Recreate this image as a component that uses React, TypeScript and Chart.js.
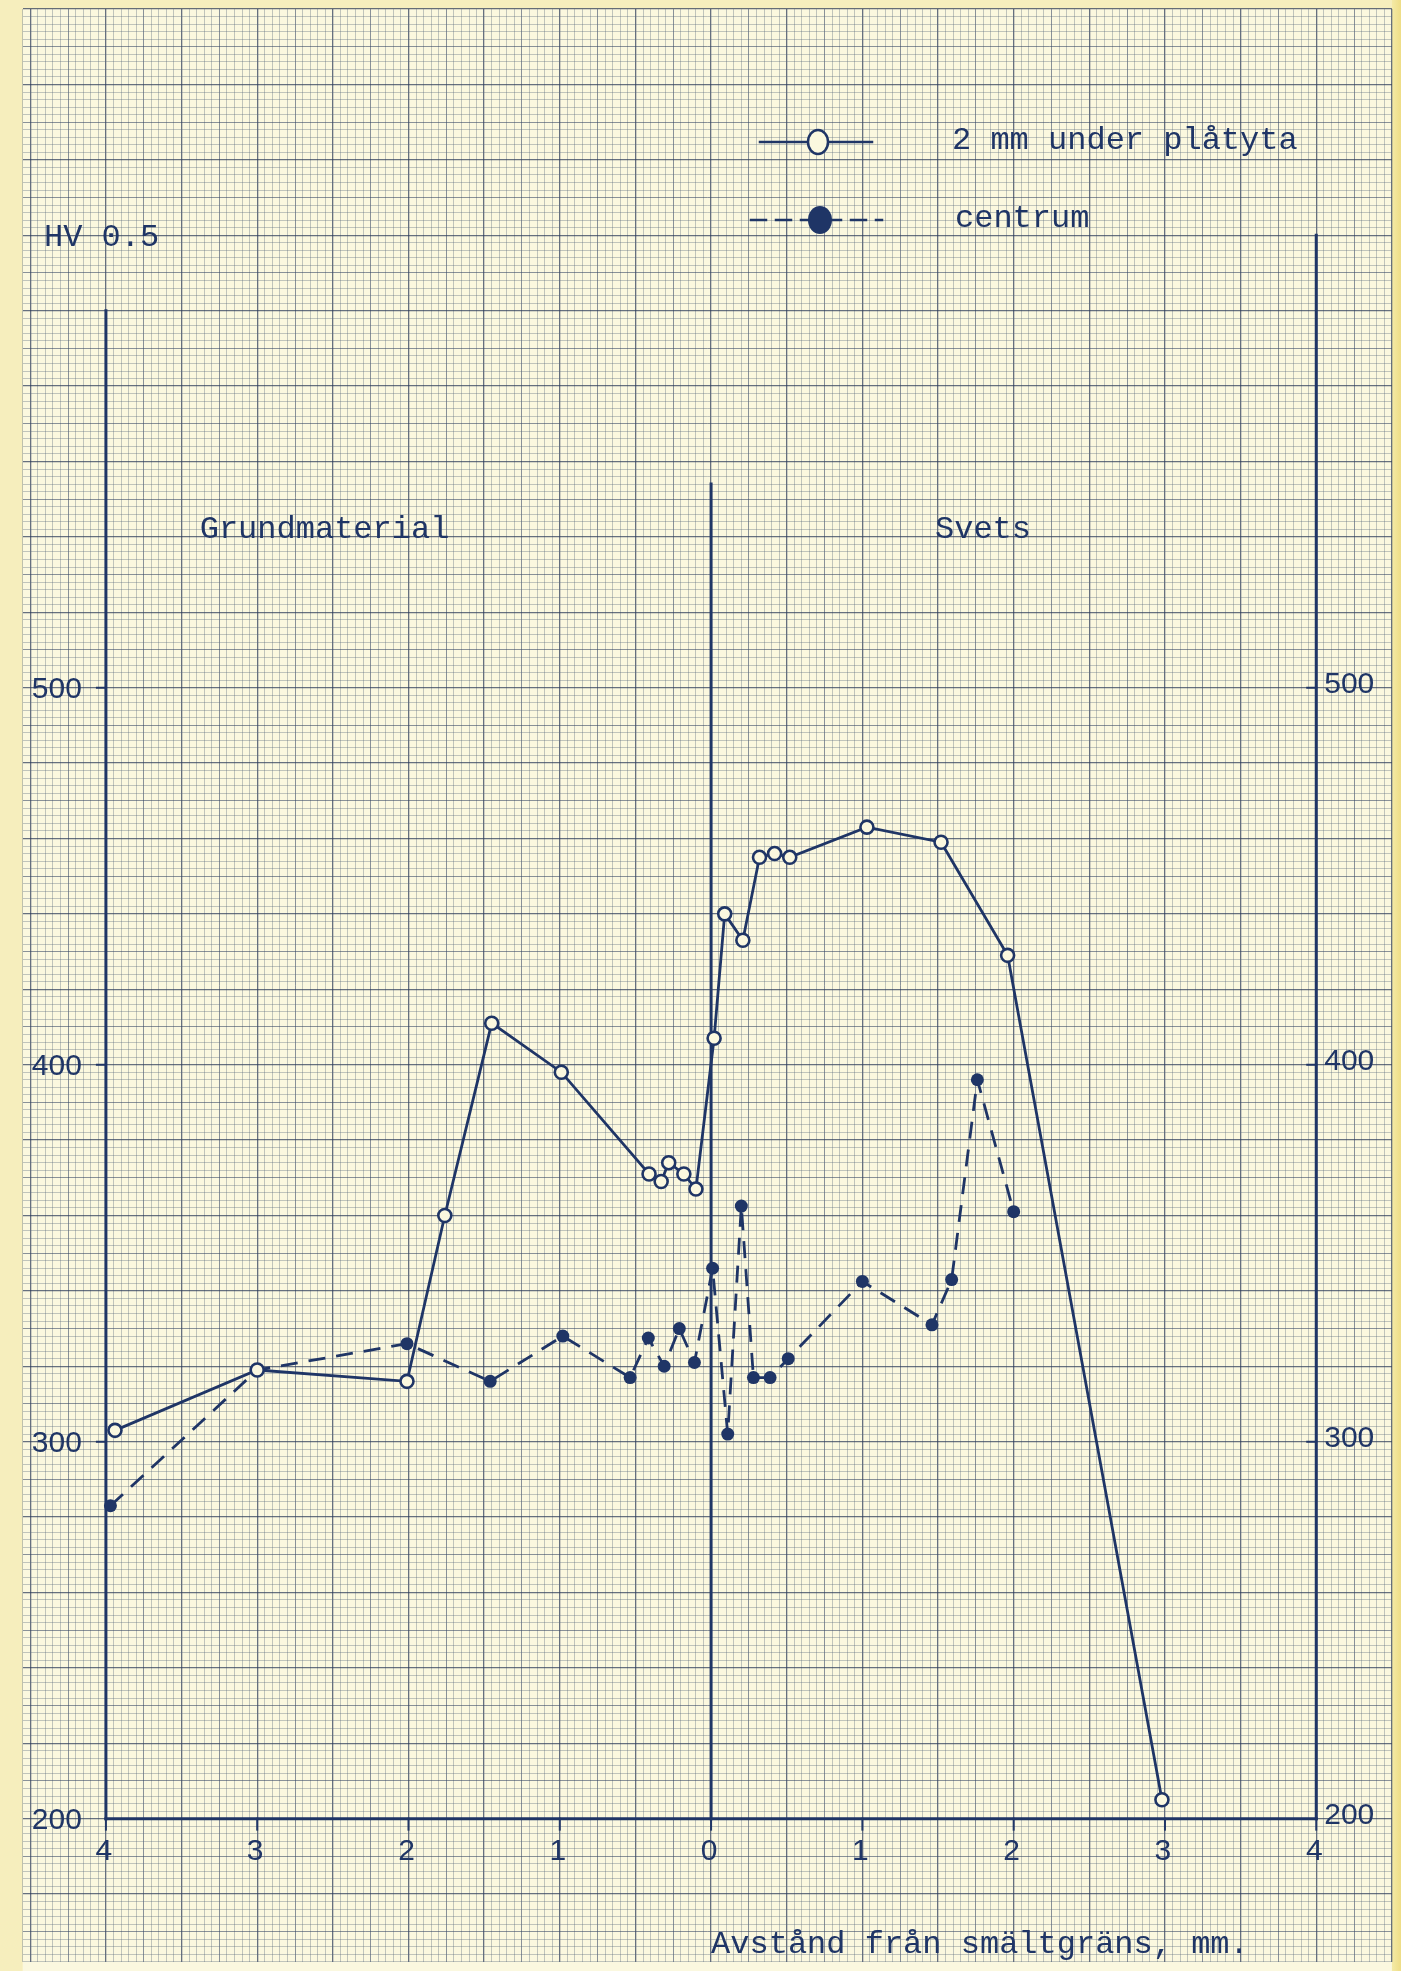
import React, { useEffect, useRef } from "react";
import { Chart, registerables } from "chart.js";

Chart.register(...registerables);

// ---- data ----
const seriesLabels = ["2 mm under plåtyta", "centrum"];

const solidX = [-3.94, -3.0, -2.01, -1.76, -1.45, -0.99, -0.41, -0.33, -0.28, -0.18, -0.1, 0.02, 0.09, 0.21, 0.32, 0.42, 0.52, 1.03, 1.52, 1.96, 2.98];
const solidY = [303, 319, 316, 360, 411, 398, 371, 369, 374, 371, 367, 407, 440, 433, 455, 456, 455, 463, 459, 429, 205];

const dashedX = [-3.97, -3.0, -2.01, -1.46, -0.98, -0.535, -0.415, -0.31, -0.21, -0.11, 0.01, 0.11, 0.2, 0.28, 0.39, 0.51, 1.0, 1.46, 1.59, 1.76, 2.0];
const dashedY = [283, 319, 326, 316, 328, 317, 327.5, 320, 330, 321, 346, 302, 362.5, 317, 317, 322, 342.5, 331, 343, 396, 361];

const yTickValues = [200, 300, 400, 500];
const yTickLabels = ["200", "300", "400", "500"];
const xTickValues = [-4, -3, -2, -1, 0, 1, 2, 3, 4];
const xTickLabels = ["4", "3", "2", "1", "0", "1", "2", "3", "4"];

const yUnitLabel = "HV 0.5";
const xAxisTitle = "Avstånd från smältgräns, mm.";
const regionLabels = ["Grundmaterial", "Svets"];

// graph-paper extents (data units)
const X_MIN = -4.55;
const X_MAX = 4.5;
const Y_MIN = 162;
const Y_MAX = 680;

const INK = "#1f3566";
const PAPER = "#fbf8df";
const TYPE_FONT = "32px 'Liberation Mono', 'DejaVu Sans Mono', monospace";
const HAND_FONT = "30px 'Liberation Sans', 'DejaVu Sans', sans-serif";

function gridStyle(k: number) {
  if (k % 10 === 0) return "rgba(45,60,90,0.72)";
  if (k % 5 === 0) return "rgba(55,70,100,0.58)";
  return "rgba(90,105,125,0.36)";
}

const paperPlugin = {
  id: "paper",
  beforeDraw(chart: any) {
    const { ctx, width, height, chartArea: a } = chart;
    ctx.save();
    ctx.fillStyle = "#f6eebd";
    ctx.fillRect(0, 0, width, height);
    const g = ctx.createLinearGradient(a.right, 0, width, 0);
    g.addColorStop(0, "#f4eaa6");
    g.addColorStop(1, "#eedd86");
    ctx.fillStyle = g;
    ctx.fillRect(a.right, 0, width - a.right, height);
    ctx.fillStyle = PAPER;
    ctx.fillRect(a.left, a.top, a.right - a.left, height - a.top);
    ctx.restore();
  },
  beforeDatasetsDraw(chart: any) {
    const { ctx } = chart;
    const xs = chart.scales.x;
    const ys = chart.scales.y;
    const px = (v: number) => xs.getPixelForValue(v);
    const py = (v: number) => ys.getPixelForValue(v);
    ctx.save();
    ctx.strokeStyle = INK;
    ctx.lineCap = "square";
    ctx.lineWidth = 3;
    const seg = (x1: number, y1: number, x2: number, y2: number) => {
      ctx.beginPath();
      ctx.moveTo(px(x1), py(y1));
      ctx.lineTo(px(x2), py(y2));
      ctx.stroke();
    };
    seg(-4, 200, -4, 600);
    seg(4, 200, 4, 620);
    seg(0, 200, 0, 554);
    seg(-4, 200, 4, 200);

    ctx.lineWidth = 2;
    yTickValues.forEach((v) => {
      if (v === 200) return;
      ctx.beginPath();
      ctx.moveTo(px(-4) - 9, py(v));
      ctx.lineTo(px(-4), py(v));
      ctx.moveTo(px(4) - 9, py(v));
      ctx.lineTo(px(4), py(v));
      ctx.stroke();
    });
    xTickValues.forEach((v) => {
      ctx.beginPath();
      ctx.moveTo(px(v), py(200));
      ctx.lineTo(px(v), py(200) + 11);
      ctx.stroke();
    });

    ctx.fillStyle = INK;
    ctx.font = HAND_FONT;
    ctx.textBaseline = "middle";
    yTickValues.forEach((v, i) => {
      ctx.textAlign = "right";
      ctx.fillText(yTickLabels[i], px(-4) - 24, py(v) + 2);
      ctx.textAlign = "left";
      ctx.fillText(yTickLabels[i], px(4) + 8, py(v) - 3);
    });
    ctx.textAlign = "center";
    xTickValues.forEach((v, i) => {
      ctx.fillText(xTickLabels[i], px(v) - 2, py(200) + 33);
    });

    ctx.font = TYPE_FONT;
    ctx.textAlign = "left";
    ctx.fillText(yUnitLabel, 44, 238);
    ctx.fillText(regionLabels[0], px(-3.38), py(542));
    ctx.fillText(regionLabels[1], px(1.48), py(542));
    ctx.fillText(xAxisTitle, px(0), py(200) + 126);

    // legend
    ctx.fillText(seriesLabels[0], 952, 141);
    ctx.fillText(seriesLabels[1], 955, 219);
    ctx.strokeStyle = INK;
    ctx.lineWidth = 2.5;
    ctx.beginPath();
    ctx.moveTo(760, 142);
    ctx.lineTo(872, 142);
    ctx.stroke();
    ctx.beginPath();
    ctx.ellipse(818, 142, 10, 12, 0, 0, Math.PI * 2);
    ctx.fillStyle = PAPER;
    ctx.fill();
    ctx.stroke();
    ctx.setLineDash([15, 10]);
    ctx.beginPath();
    ctx.moveTo(751, 220);
    ctx.lineTo(882, 220);
    ctx.stroke();
    ctx.setLineDash([]);
    ctx.fillStyle = INK;
    ctx.beginPath();
    ctx.ellipse(820, 220, 12, 14, 0, 0, Math.PI * 2);
    ctx.fill();
    ctx.restore();
  },
};

export default function App() {
  const ref = useRef<HTMLCanvasElement | null>(null);
  useEffect(() => {
    document.body.style.margin = "0";
    const canvas = ref.current;
    if (!canvas) return;
    const chart = new Chart(canvas, {
      type: "line",
      data: {
        datasets: [
          {
            label: seriesLabels[0],
            data: solidX.map((x, i) => ({ x, y: solidY[i] })),
            borderColor: INK,
            borderWidth: 2.8,
            pointRadius: 6.5,
            pointBorderWidth: 2.6,
            pointBackgroundColor: PAPER,
            pointBorderColor: INK,
            tension: 0,
          },
          {
            label: seriesLabels[1],
            data: dashedX.map((x, i) => ({ x, y: dashedY[i] })),
            borderColor: INK,
            borderWidth: 2.8,
            borderDash: [17, 11],
            pointRadius: 6.5,
            pointBorderWidth: 0,
            pointBackgroundColor: INK,
            pointBorderColor: INK,
            tension: 0,
          },
        ],
      },
      options: {
        animation: false,
        responsive: false,
        devicePixelRatio: 1,
        layout: { padding: { left: 22.7, right: 7.3, top: 4, bottom: 3 } },
        plugins: { legend: { display: false }, tooltip: { enabled: false }, title: { display: false } },
        scales: {
          x: {
            type: "linear",
            min: X_MIN,
            max: X_MAX,
            ticks: { display: false, stepSize: 0.05, autoSkip: false },
            afterFit: (s: any) => { s.height = 0; },
            grid: {
              drawTicks: false,
              color: (c: any) => gridStyle(Math.round((c.tick ? c.tick.value : 0) / 0.05)),
              lineWidth: (c: any) => (Math.round((c.tick ? c.tick.value : 0) / 0.05) % 10 === 0 ? 1.3 : 1),
            },
            border: { display: false },
          },
          y: {
            type: "linear",
            min: Y_MIN,
            max: Y_MAX,
            ticks: { display: false, stepSize: 2, autoSkip: false },
            afterFit: (s: any) => { s.width = 0; },
            grid: {
              drawTicks: false,
              color: (c: any) => gridStyle(Math.round((c.tick ? c.tick.value : 0) / 2)),
              lineWidth: (c: any) => (Math.round((c.tick ? c.tick.value : 0) / 2) % 10 === 0 ? 1.3 : 1),
            },
            border: { display: false },
          },
        },
      },
      plugins: [paperPlugin],
    } as any);
    return () => chart.destroy();
  }, []);
  return <canvas ref={ref} width={1401} height={1971} style={{ display: "block" }} />;
}
